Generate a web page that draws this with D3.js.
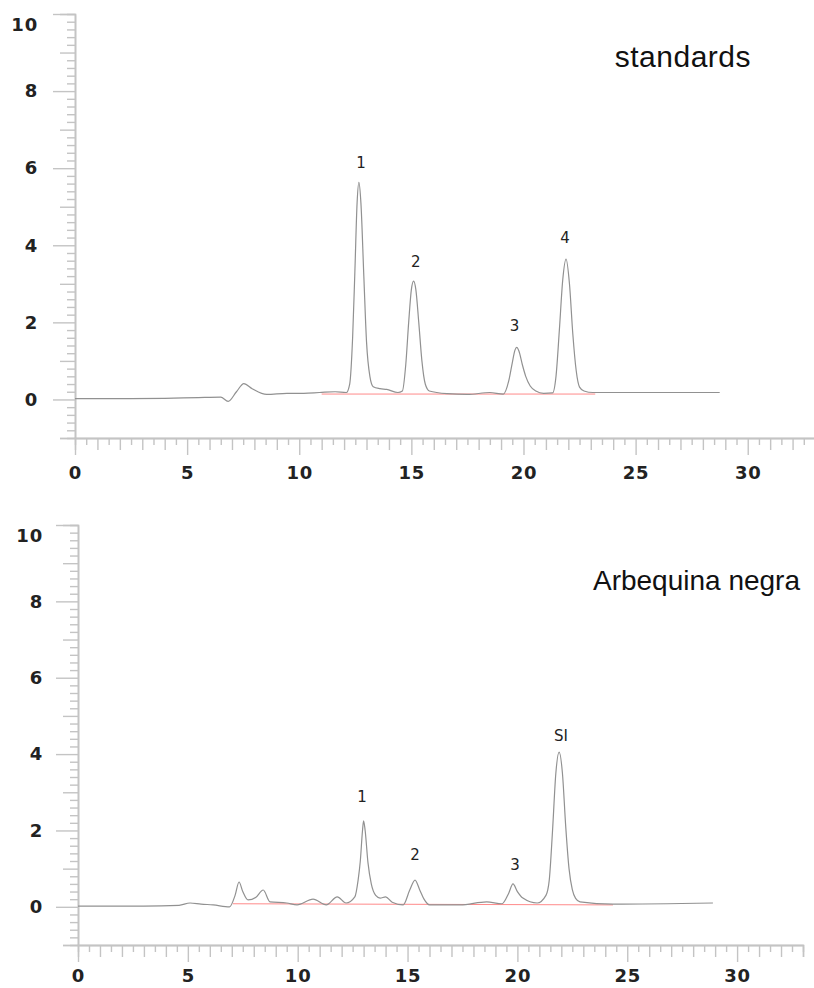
<!DOCTYPE html>
<html>
<head>
<meta charset="utf-8">
<script src="https://cdn.jsdelivr.net/npm/d3@7"></script>
<style>
  body { margin: 0; background: #fff; }
  .tick text { font-family: "DejaVu Sans", Verdana, sans-serif; font-weight: bold; font-size: 18px; letter-spacing: 0.8px; fill: #222; }
  .axis path, .axis line { stroke: #c4c4c4; stroke-width: 1.4; }
</style>
</head>
<body>
<div id="chart-area"></div>
<script>
// chromatogram traces (time in min, signal)
var stdTime = [0, 2, 4, 5.5, 6.5, 6.83, 7.2, 7.53, 7.9, 8.55, 9.45, 10.2, 10.9, 11.6, 12.1,
    12.25, 12.38, 12.48, 12.58, 12.66, 12.75, 12.88, 13.0, 13.15, 13.3, 13.6, 13.9, 14.4,
    14.6, 14.75, 14.88, 15.0, 15.1, 15.2, 15.33, 15.47, 15.62, 15.8, 16.6, 17.5, 18.5, 19.1,
    19.35, 19.5, 19.62, 19.7, 19.8, 19.95, 20.1, 20.3, 20.55, 20.9, 21.3, 21.45, 21.6, 21.75,
    21.9, 22.05, 22.2, 22.35, 22.5, 22.7, 23.1, 25, 28.75];
var stdSignal = [0.02, 0.02, 0.03, 0.05, 0.06, -0.05, 0.2, 0.41, 0.28, 0.13, 0.16, 0.16, 0.18, 0.2, 0.18,
    0.4, 1.6, 3.3, 5.1, 5.63, 5.1, 3.2, 1.5, 0.6, 0.33, 0.28, 0.26, 0.18,
    0.22, 0.9, 2.0, 2.85, 3.07, 2.85, 2.0, 1.0, 0.4, 0.22, 0.15, 0.13, 0.18, 0.14,
    0.5, 0.95, 1.28, 1.35, 1.25, 0.9, 0.6, 0.35, 0.22, 0.16, 0.17, 0.6, 1.8, 3.1,
    3.64, 3.0, 1.7, 0.75, 0.32, 0.22, 0.18, 0.18, 0.18];

var arbTime = [0, 3, 4.6, 5.1, 5.6, 6.15, 6.9, 7.15, 7.33, 7.5, 7.74, 8.1, 8.43, 8.74, 9.5, 9.97,
    10.7, 11.3, 11.8, 12.2, 12.6, 12.75, 12.85, 12.95, 13.0, 13.07, 13.2, 13.35, 13.55, 13.75,
    14.0, 14.3, 14.8, 15.1, 15.34, 15.55, 15.75, 16.0, 17.4, 18.6, 19.3, 19.6, 19.8, 20.0, 20.25,
    20.9, 21.3, 21.45, 21.6, 21.75, 21.9, 22.05, 22.2, 22.35, 22.5, 22.65, 22.85, 24.35, 28.9];
var arbSignal = [0.02, 0.02, 0.04, 0.1, 0.07, 0.05, 0.0, 0.3, 0.65, 0.4, 0.18, 0.25, 0.44, 0.13, 0.1, 0.05,
    0.2, 0.05, 0.26, 0.1, 0.26, 0.7, 1.2, 2.0, 2.25, 2.0, 1.15, 0.6, 0.3, 0.23,
    0.26, 0.12, 0.05, 0.44, 0.7, 0.45, 0.2, 0.05, 0.05, 0.13, 0.08, 0.35, 0.6, 0.4, 0.23,
    0.1, 0.3, 0.7, 2.0, 3.5, 4.05, 3.5, 2.1, 1.0, 0.45, 0.22, 0.13, 0.07, 0.1];

// red integration baselines [t0, y0, t1, y1]
var stdBase = [11.0, 0.14, 23.2, 0.14];
var arbBase = [7.05, 0.08, 24.35, 0.05];

// peak labels
var stdPeaks = ["1", "2", "3", "4"];
var stdPeakT = [12.75, 15.2, 19.6, 21.85];
var stdPeakY = [6.13, 3.56, 1.92, 4.2];
var arbPeaks = ["1", "2", "3", "SI"];
var arbPeakT = [12.93, 15.34, 19.89, 21.98];
var arbPeakY = [2.88, 1.36, 1.1, 4.47];

var xTicks = [0, 5, 10, 15, 20, 25, 30];
var yTicks = [0, 2, 4, 6, 8, 10];

var W = 814, H = 988;
var svg = d3.select("#chart-area").append("svg")
    .attr("width", W)
    .attr("height", H);

function panel(cfg) {
    var x = d3.scaleLinear().domain([0, 33]).range([cfg.left, cfg.right]);
    var y = d3.scaleLinear().domain([-1, 10]).range([cfg.bottom, cfg.top]);
    var g = svg.append("g");

    // y axis: minor, medium, major
    var minorY = d3.range(-8, 100, 2).map((d)=>{return d / 10;}).filter((d)=>{return Math.abs(d - Math.round(d)) > 0.01;});
    var oddY = [-1, 1, 3, 5, 7, 9];
    g.append("g").attr("class", "axis")
        .attr("transform", "translate(" + cfg.left + ",0)")
        .call(d3.axisLeft(y).tickValues(minorY).tickSize(8).tickFormat(""));
    g.append("g").attr("class", "axis")
        .attr("transform", "translate(" + cfg.left + ",0)")
        .call(d3.axisLeft(y).tickValues(oddY).tickSize(15).tickFormat(""));
    var yAx = g.append("g").attr("class", "axis")
        .attr("transform", "translate(" + cfg.left + ",0)")
        .call(d3.axisLeft(y).tickValues(yTicks).tickSize(22).tickSizeOuter(0).tickPadding(cfg.yPad));
    yAx.selectAll(".tick").filter((d)=>{return d === 10;}).select("text")
        .attr("transform", "translate(0,11)");

    // x axis
    var halfX = d3.range(1, 66, 2).map((d)=>{return d / 2;});
    var intX = d3.range(1, 34).filter((d)=>{return d % 5 !== 0;});
    g.append("g").attr("class", "axis")
        .attr("transform", "translate(0," + cfg.bottom + ")")
        .call(d3.axisBottom(x).tickValues(halfX).tickSize(7).tickFormat(""));
    g.append("g").attr("class", "axis")
        .attr("transform", "translate(0," + cfg.bottom + ")")
        .call(d3.axisBottom(x).tickValues(intX).tickSize(12).tickFormat(""));
    g.append("g").attr("class", "axis")
        .attr("transform", "translate(0," + cfg.bottom + ")")
        .call(d3.axisBottom(x).tickValues(xTicks).tickSize(17).tickSizeOuter(0).tickPadding(cfg.xPad));

    // baseline (red)
    g.append("line")
        .attr("x1", x(cfg.base[0])).attr("y1", y(cfg.base[1]))
        .attr("x2", x(cfg.base[2])).attr("y2", y(cfg.base[3]))
        .attr("stroke", "#ff8a8a")
        .attr("stroke-width", 1);

    // trace
    var pts = cfg.time.map((t, i)=>{return [t, cfg.signal[i]];});
    var line = d3.line()
        .x((d)=>{return x(d[0]);})
        .y((d)=>{return y(d[1]);})
        .curve(d3.curveMonotoneX);
    g.append("path")
        .datum(pts)
        .attr("d", line)
        .attr("fill", "none")
        .attr("stroke", "#919191")
        .attr("stroke-width", 1.2);

    // peak labels
    g.selectAll(".peak")
        .data(cfg.peaks)
        .enter().append("text")
            .attr("class", "peak")
            .attr("x", (d, i)=>{return x(cfg.peakT[i]);})
            .attr("y", (d, i)=>{return y(cfg.peakY[i]);})
            .attr("dy", "0.35em")
            .attr("text-anchor", "middle")
            .attr("font-family", "DejaVu Sans, sans-serif")
            .attr("font-size", "15px")
            .attr("fill", "#222")
            .text((d)=>{return d;});

    // title
    g.append("text")
        .attr("x", cfg.titleX)
        .attr("y", cfg.titleY)
        .attr("text-anchor", "end")
        .attr("font-family", "Liberation Sans, Arial, sans-serif")
        .attr("font-size", cfg.titleSize)
        .attr("letter-spacing", cfg.titleSpacing)
        .attr("fill", "#111")
        .text(cfg.title);
}

panel({ left: 75, right: 815, top: 14, bottom: 438, yPad: 15, xPad: 11,
    time: stdTime, signal: stdSignal, base: stdBase,
    peaks: stdPeaks, peakT: stdPeakT, peakY: stdPeakY,
    title: "standards", titleX: 751, titleY: 67, titleSize: "30px", titleSpacing: "0.5px" });

panel({ left: 78, right: 803, top: 525, bottom: 945, yPad: 13, xPad: 7,
    time: arbTime, signal: arbSignal, base: arbBase,
    peaks: arbPeaks, peakT: arbPeakT, peakY: arbPeakY,
    title: "Arbequina negra", titleX: 800, titleY: 590, titleSize: "28px", titleSpacing: "0px" });
</script>
</body>
</html>
